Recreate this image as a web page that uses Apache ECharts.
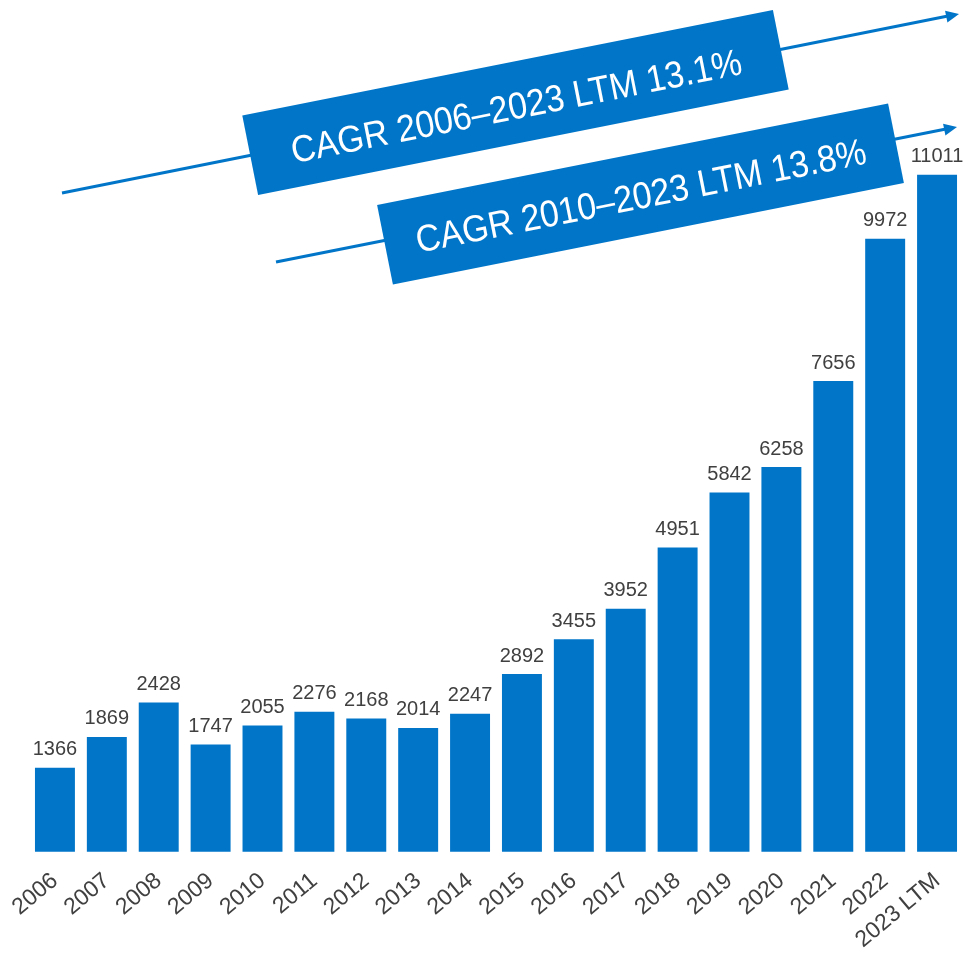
<!DOCTYPE html>
<html><head><meta charset="utf-8">
<script src="https://cdn.jsdelivr.net/npm/echarts@6/dist/echarts.min.js"></script>
<style>html,body{margin:0;padding:0;background:#fff}#c{width:968px;height:954px}</style>
</head><body><div id="c"></div>
<script>
const categories = ['2006','2007','2008','2009','2010','2011','2012','2013','2014','2015','2016','2017','2018','2019','2020','2021','2022','2023 LTM'];
const values = [1366,1869,2428,1747,2055,2276,2168,2014,2247,2892,3455,3952,4951,5842,6258,7656,9972,11011];
const cagrLabels = ['CAGR 2006\u20132023 LTM 13.1%', 'CAGR 2010\u20132023 LTM 13.8%'];

const BLUE = '#0176c9';
const FONT = '"Liberation Sans", Arial, sans-serif';
const ang = 11.25 * Math.PI / 180;
function arrowHead(tx, ty) {
  const L = 13, W = 6;
  const dx = Math.cos(ang), dy = -Math.sin(ang);
  const bx = tx - dx * L, by = ty - dy * L;
  const px = -dy, py = dx;
  return [[tx, ty], [bx + px * W, by + py * W], [bx - px * W, by - py * W]];
}
function box(cx, cy, w, h, text, ty) {
  return {
    type: 'group', x: cx, y: cy, rotation: ang,
    children: [
      { type: 'rect', z: 20, shape: { x: -w / 2, y: -h / 2, width: w, height: h }, style: { fill: BLUE } },
      { type: 'text', z: 21, x: 0, y: ty, scaleY: 1.1, style: { text: text, fill: '#fff', font: '34px ' + FONT, align: 'center', verticalAlign: 'middle' } }
    ]
  };
}
const chart = echarts.init(document.getElementById('c'));
chart.setOption({
  animation: false,
  grid: { left: 29, right: 5, top: 114, bottom: 102, containLabel: false },
  xAxis: {
    type: 'category', data: categories,
    axisLine: { show: false }, axisTick: { show: false },
    axisLabel: { rotate: 40, interval: 0, margin: 26, color: '#404040', fontSize: 23, fontFamily: FONT }
  },
  yAxis: { type: 'value', min: 0, max: 12000, show: false, splitLine: { show: false } },
  series: [{
    type: 'bar', data: values, barCategoryGap: '23%',
    itemStyle: { color: BLUE },
    label: { show: true, position: 'top', distance: 8, color: '#404040', fontSize: 20, fontFamily: FONT }
  }],
  graphic: [
    { type: 'line', z: 5, shape: { x1: 62, y1: 193, x2: 948, y2: 16 }, style: { stroke: BLUE, lineWidth: 3 } },
    { type: 'polygon', z: 5, shape: { points: arrowHead(959, 14) }, style: { fill: BLUE } },
    { type: 'line', z: 5, shape: { x1: 276, y1: 262, x2: 946, y2: 129 }, style: { stroke: BLUE, lineWidth: 3 } },
    { type: 'polygon', z: 5, shape: { points: arrowHead(957, 127) }, style: { fill: BLUE } },
    box(515.5, 102.5, 541, 81, cagrLabels[0], 6),
    box(640.5, 194, 521, 81, cagrLabels[1], 4)
  ]
});
</script></body></html>
